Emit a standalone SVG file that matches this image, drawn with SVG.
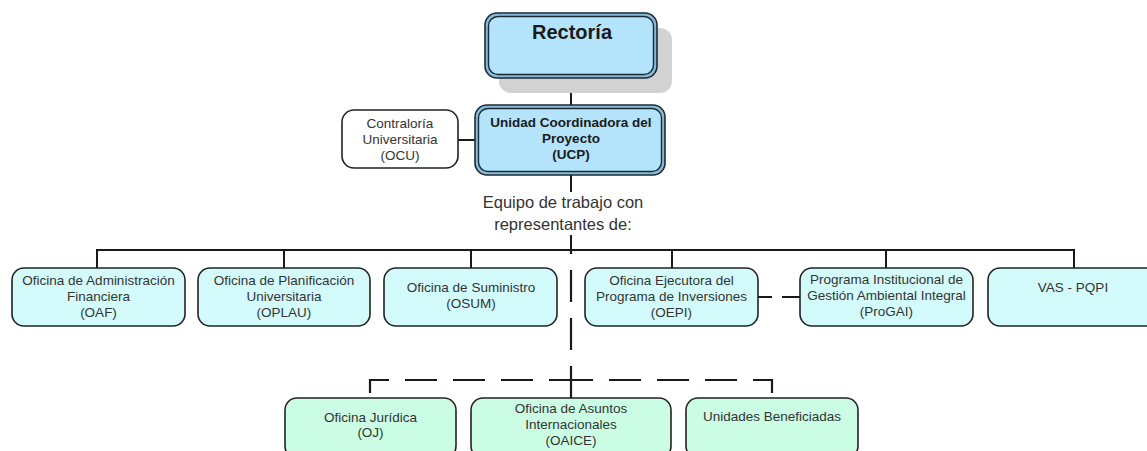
<svg xmlns="http://www.w3.org/2000/svg" width="1147" height="451" viewBox="0 0 1147 451">
  <style>
    text { font-family: "Liberation Sans", Arial, sans-serif; fill: #333333; text-anchor: middle; }
    .t { font-size: 13.5px; }
    .b { font-weight: bold; fill: #1a1a1a; }
    .box { stroke: #222222; stroke-width: 1.6; }
    .cyan { fill: #d4fbfb; }
    .mint { fill: #cbfde4; }
    .white { fill: #ffffff; }
    .outer { fill: #86bcd9; stroke: #1e2a33; stroke-width: 1.6; }
    .inner { fill: #b3e4fb; stroke: #1e2a33; stroke-width: 1.4; }
    .ln { stroke: #1a1a1a; stroke-width: 2; fill: none; }
    .dash { stroke: #1a1a1a; stroke-width: 2.2; fill: none; stroke-dasharray: 32 16; }
  </style>

  <g id="connectors">
    <line class="ln" x1="571" y1="78" x2="571" y2="105"/>
    <line class="ln" x1="458" y1="140" x2="475" y2="140"/>
    <line class="ln" x1="571" y1="175" x2="571" y2="192"/>
    <line class="ln" x1="571" y1="235" x2="571" y2="251"/>
    <line class="ln" x1="96" y1="250" x2="1075" y2="250"/>
    <line class="ln" x1="97" y1="250" x2="97" y2="268"/>
    <line class="ln" x1="284" y1="250" x2="284" y2="268"/>
    <line class="ln" x1="471" y1="250" x2="471" y2="268"/>
    <line class="ln" x1="672" y1="250" x2="672" y2="268"/>
    <line class="ln" x1="886" y1="250" x2="886" y2="268" stroke-width="3"/>
    <line class="ln" x1="1074" y1="250" x2="1074" y2="268"/>
    <path class="dash" d="M571,398 V250"/>
    <path class="dash" d="M370,393 V380 H571"/>
    <path class="dash" d="M772,393 V380 H571"/>
    <path class="ln" d="M758,297 H772 M782,297 H800"/>
  </g>

  <g id="rectoria">
    <rect x="499" y="28" width="173" height="65" rx="12" fill="#d2d2d2"/>
    <rect class="outer" x="485" y="13" width="172" height="65" rx="12"/>
    <rect class="inner" x="488.5" y="16.5" width="165" height="58" rx="9.5"/>
    <text class="b" x="572" y="39" font-size="20">Rectoría</text>
  </g>

  <g id="ucp">
    <rect class="outer" x="475" y="105" width="190" height="70" rx="12"/>
    <rect class="inner" x="478.5" y="108.5" width="183" height="63" rx="9.5"/>
    <text class="b t" x="571" y="127">Unidad Coordinadora del</text>
    <text class="b t" x="571" y="143">Proyecto</text>
    <text class="b t" x="571" y="159">(UCP)</text>
  </g>

  <g id="ocu">
    <rect class="box white" x="342" y="110" width="116" height="58" rx="12"/>
    <text class="t" x="400" y="128" font-size="13">Contraloría</text>
    <text class="t" x="400" y="144">Universitaria</text>
    <text class="t" x="400" y="160">(OCU)</text>
  </g>

  <g id="equipo">
    <text x="563" y="208" font-size="16.5">Equipo de trabajo con</text>
    <text x="563" y="230" font-size="16.5">representantes de:</text>
  </g>

  <g id="oaf">
    <rect class="box cyan" x="12" y="268" width="173" height="58" rx="12"/>
    <text class="t" x="98.5" y="285">Oficina de Administración</text>
    <text class="t" x="98.5" y="301">Financiera</text>
    <text class="t" x="98.5" y="317">(OAF)</text>
  </g>

  <g id="oplau">
    <rect class="box cyan" x="198" y="268" width="172" height="58" rx="12"/>
    <text class="t" x="284" y="285">Oficina de Planificación</text>
    <text class="t" x="284" y="301">Universitaria</text>
    <text class="t" x="284" y="317">(OPLAU)</text>
  </g>

  <g id="osum">
    <rect class="box cyan" x="384" y="268" width="173" height="58" rx="12"/>
    <text class="t" x="471" y="292">Oficina de Suministro</text>
    <text class="t" x="471" y="308">(OSUM)</text>
  </g>

  <g id="oepi">
    <rect class="box cyan" x="585" y="268" width="173" height="58" rx="12"/>
    <text class="t" x="671.5" y="285">Oficina Ejecutora del</text>
    <text class="t" x="671.5" y="301">Programa de Inversiones</text>
    <text class="t" x="671.5" y="317">(OEPI)</text>
  </g>

  <g id="progai">
    <rect class="box cyan" x="800" y="268" width="173" height="58" rx="12"/>
    <text class="t" x="886.5" y="284">Programa Institucional de</text>
    <text class="t" x="886.5" y="300">Gestión Ambiental Integral</text>
    <text class="t" x="886.5" y="316">(ProGAI)</text>
  </g>

  <g id="vas">
    <rect class="box cyan" x="988" y="268" width="172" height="58" rx="12"/>
    <text class="t" x="1073" y="292">VAS - PQPI</text>
  </g>

  <g id="oj">
    <rect class="box mint" x="285" y="398" width="171" height="60" rx="12"/>
    <text class="t" x="370.5" y="422">Oficina Jurídica</text>
    <text class="t" x="370.5" y="437">(OJ)</text>
  </g>

  <g id="oaice">
    <rect class="box mint" x="471" y="398" width="200" height="60" rx="12"/>
    <text class="t" x="571" y="413">Oficina de Asuntos</text>
    <text class="t" x="571" y="429">Internacionales</text>
    <text class="t" x="571" y="445">(OAICE)</text>
  </g>

  <g id="unidades">
    <rect class="box mint" x="686" y="398" width="172" height="60" rx="12"/>
    <text class="t" x="772" y="421">Unidades Beneficiadas</text>
  </g>
</svg>
